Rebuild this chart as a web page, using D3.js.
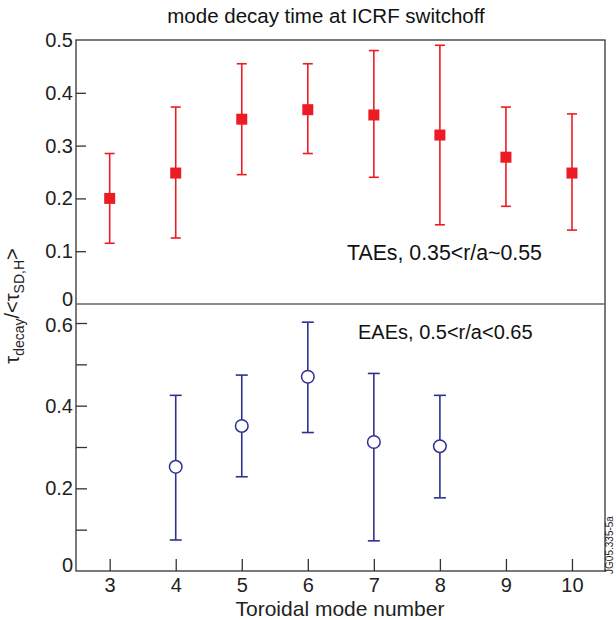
<!DOCTYPE html>
<html>
<head>
<meta charset="utf-8">
<script src="https://cdn.jsdelivr.net/npm/d3@7"></script>
<style>
  body { margin: 0; background: #fff; }
  svg { display: block; font-family: "Liberation Sans", Arial, sans-serif; }
</style>
</head>
<body>
<svg id="chart" width="616" height="620"></svg>
<script>
// toroidal mode numbers
var modesTAE = [3, 4, 5, 6, 7, 8, 9, 10];
var tauTAE   = [0.200, 0.248, 0.350, 0.368, 0.358, 0.320, 0.278, 0.248];
var loTAE    = [0.115, 0.125, 0.245, 0.285, 0.240, 0.150, 0.185, 0.140];
var hiTAE    = [0.285, 0.373, 0.455, 0.455, 0.480, 0.490, 0.373, 0.360];

var modesEAE = [4, 5, 6, 7, 8];
var tauEAE   = [0.252, 0.351, 0.470, 0.312, 0.302];
var loEAE    = [0.075, 0.228, 0.335, 0.073, 0.177];
var hiEAE    = [0.425, 0.474, 0.602, 0.478, 0.425];

var xTicks = [3, 4, 5, 6, 7, 8, 9, 10];
var yTicksTop = [0, 0.1, 0.2, 0.3, 0.4, 0.5];
var yTicksBot = [0, 0.1, 0.2, 0.3, 0.4, 0.5, 0.6];
var yLabelsBot = [0, 0.2, 0.4, 0.6];

(function () {
    var svg = d3.select('#chart');
    var left = 76, right = 605, top = 40, mid = 304, bottom = 571;
    var axisCol = '#333', red = '#ec1c24', blue = '#2e3192';
    var font = '"Liberation Sans", Arial, sans-serif';

    var x = d3.scaleLinear().domain([2.49, 10.5]).range([left, right]);
    var yTop = d3.scaleLinear().domain([0, 0.5]).range([mid, top]);
    var yBot = d3.scaleLinear().domain([0, 0.646]).range([bottom, mid]);

    // title
    svg.append('text').attr('x', 326).attr('y', 23).attr('text-anchor', 'middle')
        .attr('font-size', 20.5).attr('fill', '#111').text('mode decay time at ICRF switchoff');

    // frame
    svg.append('rect').attr('x', left).attr('y', top).attr('width', right - left).attr('height', bottom - top)
        .attr('fill', 'none').attr('stroke', axisCol).attr('stroke-width', 1.3);
    svg.append('line').attr('x1', left).attr('x2', right).attr('y1', mid).attr('y2', mid)
        .attr('stroke', '#666').attr('stroke-width', 1.3);

    function fmt(d) { return d === 0 ? '0' : d3.format('.1f')(d); }

    // top panel y axis (inward ticks)
    var gt = svg.append('g').attr('transform', 'translate(' + left + ',0)')
        .call(d3.axisLeft(yTop).tickValues(yTicksTop).tickSize(-10).tickPadding(3).tickFormat(fmt));
    // bottom panel y axis, odd tenths unlabeled
    var gb = svg.append('g').attr('transform', 'translate(' + left + ',0)')
        .call(d3.axisLeft(yBot).tickValues(yTicksBot).tickSize(-11).tickPadding(3)
            .tickFormat(function (d) {
                var lab = yLabelsBot.some(function (v) { return Math.abs(v - d) < 1e-9; });
                return lab ? fmt(d) : '';
            }));
    // x axis (ticks upward)
    var gx = svg.append('g').attr('transform', 'translate(0,' + bottom + ')')
        .call(d3.axisBottom(x).tickValues(xTicks).tickSize(-12).tickPadding(7));

    [gt, gb, gx].forEach(function (g) {
        g.attr('font-family', font).attr('font-size', 20);
        g.select('.domain').remove();
        g.selectAll('.tick line').attr('stroke', axisCol).attr('stroke-width', 1.3);
        g.selectAll('.tick text').attr('fill', '#222');
    });
    // keep "0" of top panel above the divider line
    gt.selectAll('.tick').filter(function (d) { return d === 0; }).select('text').attr('dy', '0.05em');
    gb.selectAll('.tick').filter(function (d) { return d === 0; }).select('text').attr('dy', '0');
    gb.selectAll('.tick').filter(function (d) { return d === 0.6; }).select('text').attr('dy', '0.4em');
    gb.selectAll('.tick').filter(function (d) { return d === 0; }).select('line').remove();
    gt.selectAll('.tick').filter(function (d) { return d === 0.5 || d === 0; }).select('line').remove();

    // error bars
    function errorBars(modes, lo, hi, y, col, cap) {
        var g = svg.append('g').attr('stroke', col).attr('stroke-width', 1.6).attr('fill', 'none');
        modes.forEach(function (m, i) {
            var cx = x(m);
            g.append('line').attr('x1', cx).attr('x2', cx).attr('y1', y(lo[i])).attr('y2', y(hi[i]));
            g.append('line').attr('x1', cx - cap).attr('x2', cx + cap).attr('y1', y(lo[i])).attr('y2', y(lo[i]));
            g.append('line').attr('x1', cx - cap).attr('x2', cx + cap).attr('y1', y(hi[i])).attr('y2', y(hi[i]));
        });
    }
    errorBars(modesTAE, loTAE, hiTAE, yTop, red, 5);
    errorBars(modesEAE, loEAE, hiEAE, yBot, blue, 6);

    // markers
    svg.append('g').selectAll('rect').data(modesTAE).join('rect')
        .attr('x', function (d) { return x(d) - 5.5; })
        .attr('y', function (d, i) { return yTop(tauTAE[i]) - 5.5; })
        .attr('width', 11).attr('height', 11).attr('fill', red);
    svg.append('g').selectAll('circle').data(modesEAE).join('circle')
        .attr('cx', function (d) { return x(d); })
        .attr('cy', function (d, i) { return yBot(tauEAE[i]); })
        .attr('r', 6.3).attr('fill', '#fff').attr('stroke', blue).attr('stroke-width', 1.5);

    // panel labels
    svg.append('text').attr('x', 347).attr('y', 260).attr('font-size', 21.3).attr('fill', '#111')
        .text('TAEs, 0.35<r/a~0.55');
    svg.append('text').attr('x', 358).attr('y', 339).attr('font-size', 20).attr('fill', '#111')
        .text('EAEs, 0.5<r/a<0.65');

    // axis titles
    svg.append('text').attr('x', 340).attr('y', 616).attr('text-anchor', 'middle')
        .attr('font-size', 21).attr('fill', '#222').text('Toroidal mode number');

    var yt = svg.append('text').attr('transform', 'translate(19,306) rotate(-90)')
        .attr('text-anchor', 'middle').attr('font-size', 20).attr('fill', '#222');
    yt.append('tspan').text('τ');
    yt.append('tspan').attr('font-size', 14).attr('dy', 5).text('decay');
    yt.append('tspan').attr('dy', -5).text('/<τ');
    yt.append('tspan').attr('font-size', 14).attr('dy', 5).text('SD,H');
    yt.append('tspan').attr('dy', -5).text('>');

    // figure id
    svg.append('text').attr('transform', 'translate(613,545) rotate(-90)')
        .attr('text-anchor', 'middle').attr('font-size', 10).attr('fill', '#222').text('JG05.335-5a');
})();
</script>
</body>
</html>
